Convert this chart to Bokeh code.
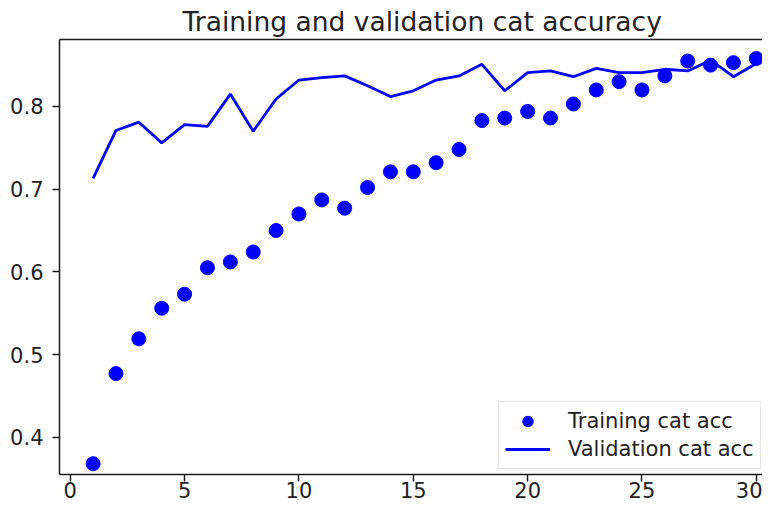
from bokeh.plotting import figure
from bokeh.models import Range1d, FixedTicker, LinearAxis, Legend, LegendItem
from bokeh.embed import file_html
from bokeh.resources import INLINE

epochs = list(range(1, 31))
train_acc = [0.368, 0.477, 0.519, 0.556, 0.573, 0.605, 0.612, 0.624, 0.650, 0.670,
             0.687, 0.677, 0.702, 0.721, 0.721, 0.732, 0.748, 0.783, 0.786, 0.794,
             0.786, 0.803, 0.820, 0.830, 0.820, 0.837, 0.855, 0.850, 0.853, 0.858]
val_acc = [0.713, 0.771, 0.781, 0.756, 0.778, 0.776, 0.815, 0.770, 0.809, 0.832,
           0.835, 0.837, 0.825, 0.812, 0.819, 0.832, 0.837, 0.851, 0.819, 0.841,
           0.843, 0.836, 0.846, 0.841, 0.841, 0.845, 0.843, 0.856, 0.836, 0.852]
x_ticks = [0, 5, 10, 15, 20, 25, 30]
y_ticks = [0.4, 0.5, 0.6, 0.7, 0.8]
title_text = "Training and validation cat accuracy"
labels = ["Training cat acc", "Validation cat acc"]

FONT = "DejaVu Sans"
TXT = "#222222"
SPINE = "#1a1a1a"

# frame: top 40, bottom 474 (px in figure); 825 px per unit on y
Y_END = 0.881
Y_START = Y_END - (474 - 40) / 825.0

p = figure(width=762, height=506, output_backend="svg", toolbar_location=None,
           x_range=Range1d(-0.47, 30.27), y_range=Range1d(Y_START, Y_END),
           min_border_left=59, min_border_right=0, min_border_top=10,
           min_border_bottom=32, title=title_text)
p.xgrid.visible = False
p.ygrid.visible = False
p.outline_line_color = None
p.background_fill_color = "white"
p.border_fill_color = "white"

p.title.text_font = FONT
p.title.text_font_size = "26.5px"
p.title.text_font_style = "normal"
p.title.text_color = TXT
p.title.align = "left"
p.title.offset = 123
p.title.standoff = 6

p.xaxis.ticker = FixedTicker(ticks=x_ticks)
p.yaxis.ticker = FixedTicker(ticks=y_ticks)
for ax in (p.xaxis[0], p.yaxis[0]):
    ax.axis_line_color = SPINE
    ax.axis_line_width = 1.5
    ax.major_tick_line_color = SPINE
    ax.major_tick_line_width = 1.5
    ax.major_tick_out = 7
    ax.major_tick_in = 0
    ax.minor_tick_line_color = None
    ax.major_label_text_font = FONT
    ax.major_label_text_font_size = "21px"
    ax.major_label_text_color = TXT
p.xaxis.major_label_standoff = 0
p.yaxis.major_label_standoff = 9

top = LinearAxis(ticker=FixedTicker(ticks=[]), axis_line_color=SPINE, axis_line_width=1.5,
                 major_tick_line_color=None, minor_tick_line_color=None,
                 major_label_text_font_size="0px")
p.add_layout(top, "above")

sc = p.scatter(epochs, train_acc, size=14, color="#0000ff", marker="circle")
ln = p.line(epochs, val_acc, line_color="#0000ff", line_width=2.8)

legend = Legend(items=[LegendItem(label=labels[0], renderers=[sc]),
                       LegendItem(label=labels[1], renderers=[ln])],
                location=(439, 5))
legend.label_text_font = FONT
legend.label_text_font_size = "21px"
legend.label_text_color = TXT
legend.glyph_width = 45
legend.glyph_height = 26
legend.label_height = 26
legend.spacing = 2
legend.padding = 6
legend.label_standoff = 18
legend.border_line_color = "#cccccc"
legend.border_line_width = 1
legend.background_fill_alpha = 0.8
p.add_layout(legend)

open("out.html", "w").write(file_html(p, INLINE))
